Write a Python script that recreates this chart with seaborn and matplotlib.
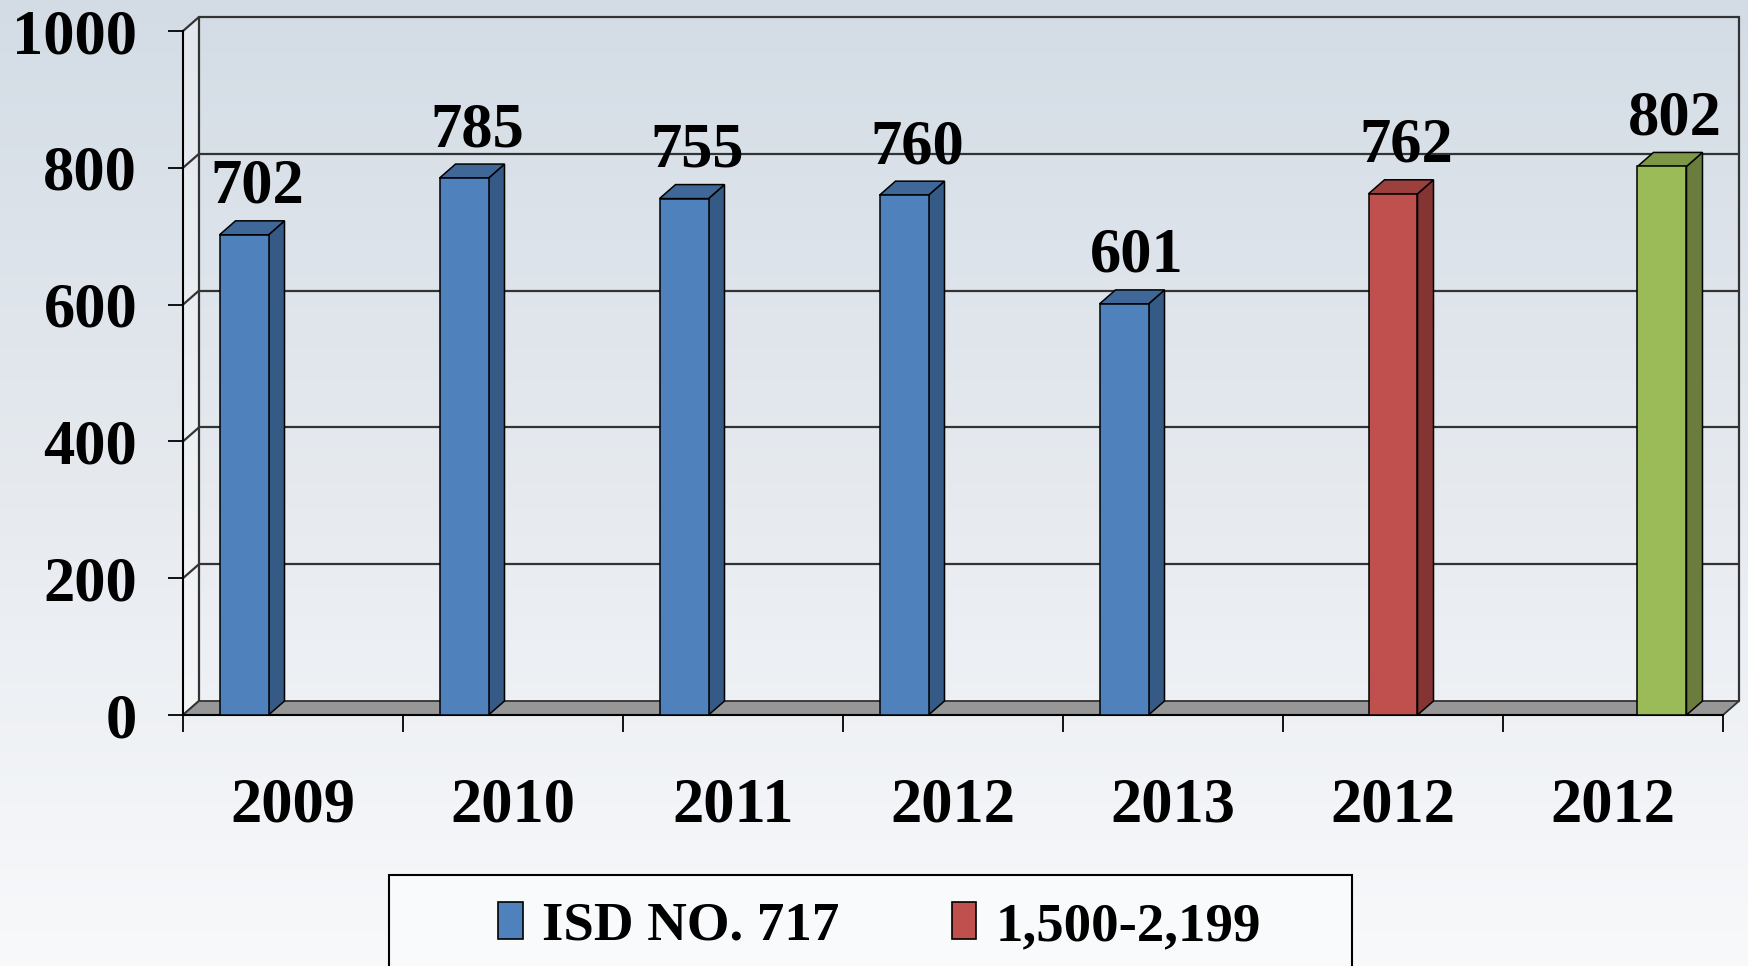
import numpy as np
import pandas as pd
import matplotlib
matplotlib.use("Agg")
import matplotlib.pyplot as plt
from matplotlib.colors import LinearSegmentedColormap, to_rgb
from matplotlib.patches import Polygon, Rectangle, Patch
import seaborn as sns

# --- data ---
slots = [0, 1, 2, 3, 4, 5, 6]
year_labels = ["2009", "2010", "2011", "2012", "2013", "2012", "2012"]
series_names = ["ISD NO. 717", "1,500-2,199", "Series 3"]
bar_series = ["ISD NO. 717"] * 5 + ["1,500-2,199", "Series 3"]
bar_values = [702, 785, 755, 760, 601, 762, 802]
y_ticks = [0, 200, 400, 600, 800, 1000]

front_colors = ["#4f81bd", "#c0504d", "#9bbb59"]
side_colors = ["#365a86", "#843533", "#6a7d3c"]
top_colors = ["#3f6898", "#9c403d", "#7d9747"]

df = pd.DataFrame({"slot": slots, "series": bar_series, "value": bar_values})

sns.set_theme(style="white")
plt.rcParams["font.family"] = ["Liberation Serif", "DejaVu Serif"]
plt.rcParams["font.weight"] = "bold"
plt.rcParams["text.color"] = "black"
plt.rcParams["xtick.color"] = "black"
plt.rcParams["ytick.color"] = "black"

fig = plt.figure(figsize=(17.48, 9.66), dpi=100)

# gradient background
bg = fig.add_axes([0, 0, 1, 1], zorder=-10)
grad = np.linspace(0, 1, 256)[:, None]
cmap = LinearSegmentedColormap.from_list("bg", ["#d3dce5", "#e6eaef", "#f8f9fb"])
bg.imshow(grad, aspect="auto", cmap=cmap, extent=[0, 1, 0, 1], origin="upper")
bg.axis("off")

W, H = 1748, 966
ax = fig.add_axes([183 / W, 1 - 715 / H, 1540 / W, 684 / H])
ax.set_facecolor("none")

sns.barplot(data=df, x="slot", y="value", hue="series", order=slots,
            hue_order=series_names, palette=dict(zip(series_names, front_colors)),
            saturation=1, width=0.668, dodge=True, edgecolor="black", linewidth=1.1,
            legend=False, ax=ax, zorder=5)
bars = [p for p in ax.patches if np.isfinite(p.get_height()) and p.get_height() > 0]

ax.set_xlim(-0.5, 6.5)
ax.set_ylim(0, 1000)

# depth of the fake 3D effect (pixels -> data units)
p0 = ax.transData.transform((0, 0))
p1 = ax.transData.transform((1, 100))
dx = 16 / (p1[0] - p0[0])
dy = 14 / ((p1[1] - p0[1]) / 100)

line_kw = dict(color="#333333", lw=1.6, clip_on=False)
# back wall gridlines + left wall diagonals
for v in y_ticks:
    if v > 0:
        ax.plot([-0.5 + dx, 6.5 + dx], [v + dy, v + dy], zorder=1, **line_kw)
    ax.plot([-0.5, -0.5 + dx], [v, v + dy], zorder=1, **line_kw)
ax.plot([-0.5 + dx] * 2, [dy, 1000 + dy], zorder=1, **line_kw)
ax.plot([6.5 + dx] * 2, [dy, 1000 + dy], zorder=1, **line_kw)

ax.add_patch(Polygon([(-0.5, 0), (-0.5 + dx, dy), (-0.5 + dx, 1000 + dy), (-0.5, 1000)],
                     fc="white", alpha=0.35, lw=0, zorder=0.5, clip_on=False))
ax.add_patch(Polygon([(-0.5, 0), (6.5, 0), (6.5 + dx, dy), (-0.5 + dx, dy)],
                     fc="#979797", ec="#333333", lw=1.3, zorder=2, clip_on=False))


def nearest(fc):
    dists = [np.sum((np.array(to_rgb(c)) - np.array(fc[:3])) ** 2) for c in front_colors]
    return int(np.argmin(dists))


# side and top faces of each bar + value labels
for p in bars:
    x0, w, h = p.get_x(), p.get_width(), p.get_height()
    x1 = x0 + w
    k = nearest(p.get_facecolor())
    ax.add_patch(Polygon([(x1, 0), (x1 + dx, dy), (x1 + dx, h + dy), (x1, h)],
                         fc=side_colors[k], ec="black", lw=1.1, zorder=4, clip_on=False))
    ax.add_patch(Polygon([(x0, h), (x1, h), (x1 + dx, h + dy), (x0 + dx, h + dy)],
                         fc=top_colors[k], ec="black", lw=1.1, zorder=4, clip_on=False))
    ax.annotate(f"{h:.0f}", xy=(x0 + w / 2 + dx * 0.8, h + dy), xytext=(0, 13),
                textcoords="offset points", ha="center", va="baseline",
                fontsize=45, fontweight="bold", color="black", zorder=6)

# axes, ticks
for s in ["top", "right"]:
    ax.spines[s].set_visible(False)
for s in ["left", "bottom"]:
    ax.spines[s].set_color("black")
    ax.spines[s].set_linewidth(1.5)
    ax.spines[s].set_zorder(3)

ax.set_yticks(y_ticks)
ax.set_yticklabels([str(v) for v in y_ticks])
ax.tick_params(axis="y", direction="out", length=11, width=1.3, color="black",
               pad=22, labelsize=45, labelcolor="black", left=True)
ax.set_xticks(slots)
ax.set_xticklabels(year_labels)
ax.set_xticks(np.arange(-0.5, 7, 1), minor=True)
ax.tick_params(axis="x", which="major", length=0, pad=45, labelsize=45, labelcolor="black")
ax.tick_params(axis="x", which="minor", direction="out", length=12, width=1.3,
               color="black", bottom=True)
for lab in ax.get_xticklabels() + ax.get_yticklabels():
    lab.set_fontweight("bold")
ax.set_xlabel("")
ax.set_ylabel("")

# legend box (cut by the bottom edge) and entries
fig.add_artist(Rectangle((389 / W, -0.05), (1352 - 389) / W, (966 - 875) / H + 0.05,
                         transform=fig.transFigure, fc="#f9fafb", ec="black", lw=1.5))
handles = [Patch(fc=c, ec="black", lw=1.2) for c in front_colors[:2]]
fig.legend(handles, series_names[:2], loc="center left", bbox_to_anchor=(498 / W, 1 - 927 / H),
           ncol=2, frameon=False,
           prop=dict(family="Liberation Serif", weight="bold", size=39.5),
           labelcolor="black", handlelength=0.45, handleheight=0.65, handletextpad=0.35,
           columnspacing=2.05, borderaxespad=0, borderpad=0)

fig.savefig("out.png", dpi=100)
